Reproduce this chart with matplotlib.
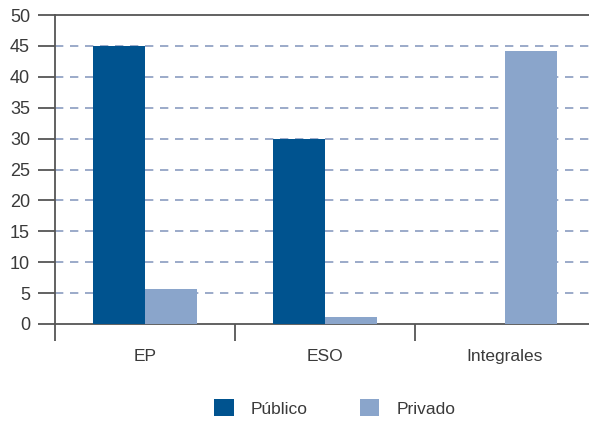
import matplotlib
matplotlib.use("Agg")
import matplotlib.pyplot as plt
import numpy as np

categories = ["EP", "ESO", "Integrales"]
publico = [45, 30, 0]
privado = [5.7, 1.1, 44.2]
series_names = ["Público", "Privado"]
yticks = [0, 5, 10, 15, 20, 25, 30, 35, 40, 45, 50]

plt.rcParams['font.family'] = ['Liberation Sans', 'DejaVu Sans']
W, H = 589, 421
fig = plt.figure(figsize=(W/100, H/100), dpi=100)
ax = fig.add_axes([55/W, 1-324/H, 540/W, 309/H])

c_pub = "#00538f"
c_priv = "#8aa5cb"
txt = "#3a3a3a"
x = np.arange(len(categories))
bw = 0.29
b1 = ax.bar(x - bw/2, publico, bw, color=c_pub, label=series_names[0], zorder=3)
b2 = ax.bar(x + bw/2, privado, bw, color=c_priv, label=series_names[1], zorder=3)

ax.set_xlim(-0.5, 2.5)
ax.set_ylim(0, 50)
ax.set_yticks(yticks)
ax.set_yticklabels([str(v) for v in yticks], fontsize=13, color=txt)
for v in yticks[1:-1]:
    ax.axhline(v, color="#8a9cc0", lw=1.2, ls=(0, (5, 4)), zorder=1)

ax.set_xticks([-0.5, 0.5, 1.5])
ax.set_xticklabels([])
ax.set_xticks(x, minor=True)
ax.set_xticklabels(categories, minor=True, fontsize=12.5, color=txt)
ax.tick_params(axis='x', which='minor', length=0, pad=18)
ax.tick_params(axis='x', which='major', length=12, width=1.3, color="#555555", direction='out')
ax.tick_params(axis='y', length=12, width=1.3, color="#555555", direction='out', pad=6)

for s in ["left", "bottom", "top"]:
    ax.spines[s].set_color("#555555")
    ax.spines[s].set_linewidth(1.3)
ax.spines["right"].set_visible(False)

fig.legend(handles=[b1, b2], labels=series_names, loc='center', bbox_to_anchor=(335/W, 1-408/H),
           ncol=2, frameon=False, fontsize=12.5, handlelength=1.1, handleheight=1.1,
           columnspacing=3.0, handletextpad=1.0, labelcolor=txt)

fig.savefig("out.png", dpi=100)
